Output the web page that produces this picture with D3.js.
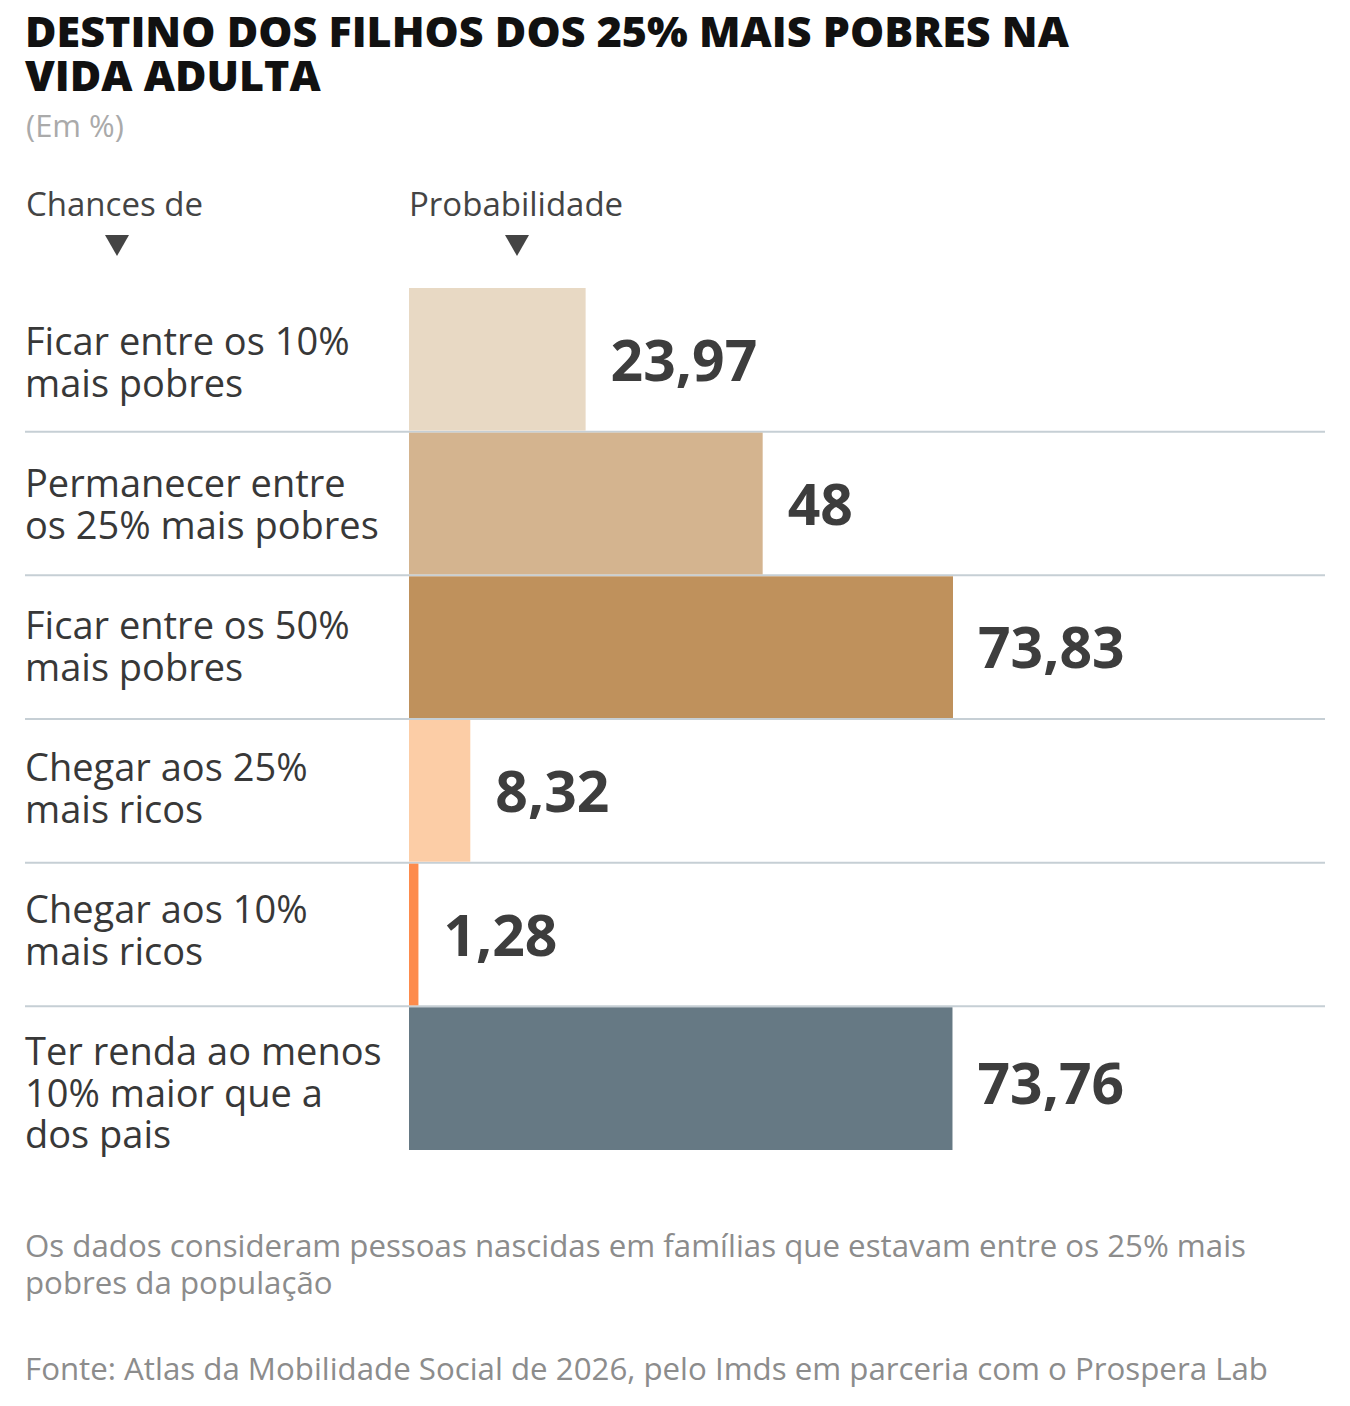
<!DOCTYPE html>
<html><head><meta charset="utf-8">
<script src="https://cdn.jsdelivr.net/npm/d3@7/dist/d3.min.js"></script>
<style>
html,body{margin:0;padding:0;background:#fff;}
svg{display:block;font-family:"Open Sans",sans-serif;}
</style></head>
<body><svg id="chart" width="1350" height="1406"></svg>
<script>
const categories = [
  ["Ficar entre os 10%", "mais pobres"],
  ["Permanecer entre", "os 25% mais pobres"],
  ["Ficar entre os 50%", "mais pobres"],
  ["Chegar aos 25%", "mais ricos"],
  ["Chegar aos 10%", "mais ricos"],
  ["Ter renda ao menos", "10% maior que a", "dos pais"]
];
const values = [23.97, 48, 73.83, 8.32, 1.28, 73.76];
const valueLabels = ["23,97", "48", "73,83", "8,32", "1,28", "73,76"];
const colors = ["#e8d9c4", "#d4b48f", "#bf915c", "#fccda6", "#fd8b4c", "#667984"];

const svg = d3.select("#chart");

// Title
const title = svg.append("text").attr("font-weight", 800).attr("font-size", 43).attr("fill", "#111");
title.append("tspan").attr("x", 25).attr("y", 47).text("DESTINO DOS FILHOS DOS 25% MAIS POBRES NA");
title.append("tspan").attr("x", 25).attr("y", 91).text("VIDA ADULTA");
svg.append("text").attr("x", 26).attr("y", 137).attr("font-size", 31).attr("fill", "#aaaaaa").text("(Em %)");

// Column headers
const x0 = 409;
svg.append("text").attr("x", 26).attr("y", 216).attr("font-size", 33).attr("fill", "#444").text("Chances de");
svg.append("text").attr("x", x0).attr("y", 216).attr("font-size", 33).attr("fill", "#444").text("Probabilidade");
const tri = (cx) => `M${cx-12},235 L${cx+12},235 L${cx},256 Z`;
svg.append("path").attr("d", tri(117)).attr("fill", "#444");
svg.append("path").attr("d", tri(517)).attr("fill", "#444");

// Scales
const x = d3.scaleLinear().domain([0, 73.83]).range([x0, 953]);
const y = d3.scaleBand().domain(d3.range(categories.length)).range([288, 1150]).paddingInner(0);
const rowH = y.bandwidth();
// label rows sit on a slightly tighter pitch than the bars
const yt = d3.scaleBand().domain(d3.range(categories.length)).range([288, 288 + 6 * 142]);
const lineH = 41.5;
const firstBase = i => yt(i) + 67;
// vertical centre of each row's content (bar or a taller label block)
const rowCenter = i => {
  const top = y(i);
  const bottom = Math.max(top + rowH, firstBase(i) + (categories[i].length - 1) * lineH + 11);
  return (top + bottom) / 2;
};

// separators
svg.append("g").selectAll("line").data(d3.range(1, categories.length)).join("line")
  .attr("x1", 25).attr("x2", 1325)
  .attr("y1", d => y(d)).attr("y2", d => y(d))
  .attr("stroke", "#c6cfd5").attr("stroke-width", 2);

// bars
svg.append("g").selectAll("rect").data(values).join("rect")
  .attr("x", x(0))
  .attr("y", (d, i) => y(i) + (i > 0 ? 1 : 0))
  .attr("width", d => x(d) - x(0))
  .attr("height", (d, i) => rowH - (i > 0 ? 1 : 0) - (i < values.length - 1 ? 1 : 0))
  .attr("fill", (d, i) => colors[i]);

// value labels
svg.append("g").selectAll("text").data(values).join("text")
  .attr("x", d => x(d) + 25)
  .attr("y", (d, i) => rowCenter(i) + 21)
  .attr("font-size", 57).attr("font-weight", 700).attr("fill", "#3d3d3d")
  .text((d, i) => valueLabels[i]);

// category labels
const lab = svg.append("g").selectAll("text").data(categories).join("text")
  .attr("font-size", 38).attr("fill", "#383838")
  .attr("y", (d, i) => firstBase(i));
lab.selectAll("tspan").data(d => d).join("tspan")
  .attr("x", 25).attr("dy", (d, j) => j === 0 ? 0 : lineH).text(d => d);

// footer
const note = svg.append("text").attr("font-size", 31.25).attr("fill", "#8c8c8c");
note.append("tspan").attr("x", 25).attr("y", 1257).text("Os dados consideram pessoas nascidas em famílias que estavam entre os 25% mais");
note.append("tspan").attr("x", 25).attr("y", 1294).text("pobres da população");
svg.append("text").attr("x", 25).attr("y", 1380).attr("font-size", 31.25).attr("fill", "#8c8c8c")
  .text("Fonte: Atlas da Mobilidade Social de 2026, pelo Imds em parceria com o Prospera Lab");
</script></body></html>
